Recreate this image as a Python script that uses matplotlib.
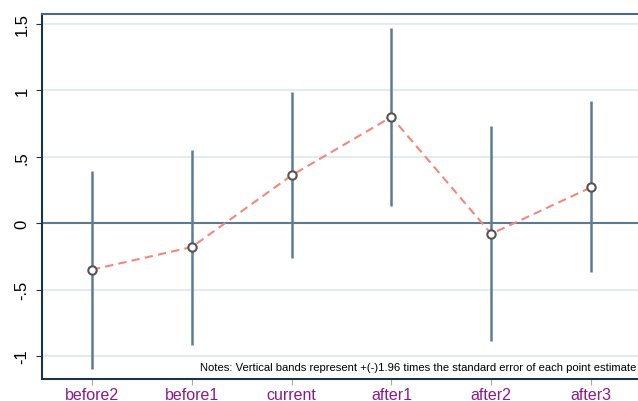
import matplotlib.pyplot as plt

plt.rcParams["font.family"] = ["Liberation Sans", "DejaVu Sans"]

labels = ["before2", "before1", "current", "after1", "after2", "after3"]
coef = [-0.35, -0.18, 0.36, 0.80, -0.08, 0.27]
ci_low = [-1.10, -0.92, -0.26, 0.13, -0.89, -0.37]
ci_high = [0.39, 0.55, 0.99, 1.47, 0.73, 0.92]
yticks = [-1, -0.5, 0, 0.5, 1, 1.5]
ytick_labels = ["-1", "-.5", "0", ".5", "1", "1.5"]

fig = plt.figure(figsize=(6.38, 4.02), dpi=100)
ax = fig.add_axes([0.0658, 0.0547, 0.9342, 0.908])

x = list(range(1, len(labels) + 1))

for yv in yticks:
    ax.axhline(yv, color="#e1e9ee", lw=1.3, zorder=0)
ax.axhline(0, color="#5c7a92", lw=1.5, zorder=1)

ax.vlines(x, ci_low, ci_high, color="#5e7c94", lw=1.8, zorder=2)
ax.plot(x, coef, ls="--", color="#f4877c", lw=1.5, dashes=(4, 2.5), zorder=3)
ax.plot(x, coef, ls="none", marker="o", ms=6, mfc="white", mec="#555555", mew=1.5, zorder=4)

ax.set_xlim(0.5, 6.47)
ax.set_ylim(-1.173, 1.575)
ax.set_xticks(x)
ax.set_xticklabels(labels, color="#8b1a8b", fontsize=11.5)
ax.set_yticks(yticks)
ax.set_yticklabels(ytick_labels, rotation=90, va="center", fontsize=12)

ax.tick_params(axis="x", length=4, color="#aaaaaa", pad=1.5)
ax.tick_params(axis="y", length=4, color="#1e3246", pad=5)

ax.spines["right"].set_visible(False)
ax.spines["top"].set_color("#4a6a84")
ax.spines["top"].set_linewidth(1.5)
ax.spines["left"].set_color("#1e3246")
ax.spines["left"].set_linewidth(1.5)
ax.spines["bottom"].set_color("#1e3246")
ax.spines["bottom"].set_linewidth(1.5)

ax.text(0.998, 0.033, "Notes: Vertical bands represent +(-)1.96 times the standard error of each point estimate",
        transform=ax.transAxes, ha="right", va="center", fontsize=8.1)

fig.savefig("out.png", dpi=100)
